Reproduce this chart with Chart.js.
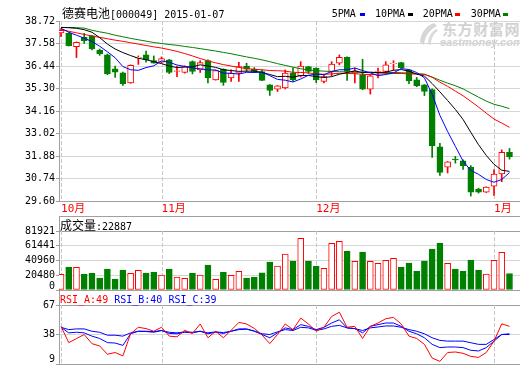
<!DOCTYPE html>
<html>
<head>
<meta charset="utf-8">
<script src="https://cdn.jsdelivr.net/npm/chart.js@4.4.1/dist/chart.umd.min.js"></script>
<style>
html,body{margin:0;padding:0;background:#fff;width:520px;height:365px;overflow:hidden;}
#wrap{position:relative;width:520px;height:365px;}
canvas{position:absolute;left:0;}
.t{position:absolute;white-space:nowrap;font-family:'DejaVu Sans Mono',monospace;font-size:10px;line-height:12px;color:#000;}
.cjk{font-family:'Noto Sans CJK SC',sans-serif;font-size:12px;}
.wm{position:absolute;white-space:nowrap;color:#d2d2d2;font-weight:bold;}
.mk{position:absolute;width:5px;height:3px;}
</style>
</head>
<body>
<div id="wrap">
  <svg class="wm" style="left:416px;top:22px" width="24" height="24" viewBox="0 0 24 24">
    <path d="M18 1 C10 4 5 10 4 20 L8 23 C9 14 13 8 21 4 Z" fill="#d6d6d6"/>
    <path d="M20 7 C15 10 12 15 12 22 L15 23 C15 17 17 12 22 9 Z" fill="#dcdcdc"/>
  </svg>
  <div class="wm" style="left:442px;top:20px;font-family:'Noto Sans CJK SC';font-size:15px;line-height:18px;letter-spacing:0.6px">东方财富网</div>
  <div class="wm" style="left:440px;top:36px;font-family:'Liberation Sans';font-size:11px;line-height:12px;font-style:italic">eastmoney.com</div>

  <canvas id="cMain" width="520" height="216" style="top:0;width:520px;height:216px"></canvas>
  <canvas id="cVol" width="520" height="75" style="top:216px;width:520px;height:75px"></canvas>
  <canvas id="cRsi" width="520" height="75" style="top:290px;width:520px;height:75px"></canvas>

  <div class="t" id="title" style="left:62px;top:7px"></div>
  <div id="legend"></div>
  <div class="t" id="volHead" style="left:60px;top:219px"></div>
  <div class="t" id="rsiHead" style="left:60px;top:294px"></div>
</div>
<script>
// ---------------- DATA ----------------
const stockName = '德赛电池';
const stockCode = '[000049] 2015-01-07';
const opens  = [38.12,38.09,37.42,37.89,37.97,37.25,37.00,36.30,36.10,35.58,36.85,37.00,36.72,36.64,36.75,36.17,36.11,36.66,36.24,36.71,35.74,36.28,35.83,36.08,36.44,36.29,36.16,35.49,35.27,35.33,36.08,35.94,36.41,36.33,35.66,36.16,36.58,36.88,36.08,35.99,35.27,36.10,36.16,36.56,36.61,36.24,35.74,35.49,35.24,32.34,31.31,31.72,31.63,31.31,30.20,30.05,30.35,30.97,32.06];
const highs  = [38.34,38.12,37.66,38.09,38.00,37.30,37.05,36.43,36.13,36.50,36.95,37.20,36.95,36.90,36.78,36.43,36.45,36.70,36.71,36.75,36.22,36.30,36.24,36.63,36.58,36.36,36.25,35.50,35.45,36.24,36.33,36.66,36.41,36.35,36.00,36.66,37.00,36.91,36.33,36.78,36.00,36.33,36.66,36.71,36.63,36.25,35.86,35.50,35.28,32.52,31.60,31.86,31.69,31.39,30.25,30.32,31.19,32.19,32.26];
const lows   = [37.92,37.45,36.87,37.58,37.25,36.98,36.00,35.86,35.45,35.56,36.52,36.63,36.58,36.60,36.05,35.90,36.08,36.04,36.11,35.58,35.72,35.46,35.66,35.66,36.16,36.10,35.70,34.95,35.15,35.28,35.66,35.88,36.06,35.60,35.58,35.94,36.50,35.71,35.58,35.24,35.02,35.83,36.04,36.24,36.33,35.54,35.39,34.94,31.81,30.90,31.02,31.52,31.20,29.85,30.00,30.03,29.88,30.58,31.72];
const closes = [38.25,37.47,37.64,37.72,37.30,37.05,36.05,36.13,35.54,36.48,36.88,36.75,36.58,36.81,36.11,36.20,36.41,36.16,36.61,35.83,36.21,35.61,36.08,36.41,36.28,36.16,35.71,35.20,35.44,36.08,35.74,36.44,36.16,35.74,35.91,36.54,36.88,36.16,36.20,35.27,35.94,36.16,36.50,36.58,36.36,35.69,35.44,35.15,32.39,31.05,31.59,31.68,31.39,30.05,30.05,30.30,30.97,32.06,31.84];
const ma5  = [38.35,38.15,38.00,37.85,37.68,37.44,37.16,36.86,36.41,36.25,36.22,36.36,36.45,36.70,36.63,36.49,36.42,36.34,36.30,36.24,36.24,36.08,36.07,36.03,36.12,36.11,36.13,35.95,35.76,35.72,35.63,35.78,35.97,36.03,36.00,36.16,36.25,36.25,36.34,36.21,36.09,35.95,36.01,36.09,36.31,36.26,36.11,35.84,35.01,33.94,33.12,32.37,31.62,31.15,30.95,30.69,30.55,30.69,31.04];
const ma10 = [38.40,38.38,38.35,38.28,38.15,37.88,37.55,37.30,37.12,36.97,36.83,36.76,36.66,36.56,36.44,36.36,36.39,36.40,36.50,36.44,36.37,36.25,36.21,36.17,36.18,36.18,36.11,36.01,35.90,35.92,35.87,35.96,35.96,35.90,35.86,35.90,36.02,36.11,36.19,36.11,36.13,36.10,36.13,36.22,36.26,36.18,36.03,35.93,35.55,35.13,34.69,34.24,33.73,33.08,32.45,31.91,31.46,31.16,31.10];
const ma20 = [38.29,38.20,38.12,38.04,37.96,37.89,37.82,37.75,37.69,37.62,37.55,37.48,37.41,37.35,37.27,37.18,37.07,36.95,36.82,36.70,36.60,36.51,36.44,36.37,36.31,36.27,36.25,36.21,36.20,36.18,36.12,36.11,36.09,36.04,36.02,36.04,36.07,36.06,36.05,36.02,36.00,36.03,36.05,36.06,36.06,36.04,36.03,36.02,35.87,35.62,35.41,35.17,34.93,34.65,34.36,34.05,33.75,33.55,33.33];
const ma30 = [38.39,38.39,38.38,38.36,38.25,38.17,38.10,38.00,37.92,37.84,37.77,37.70,37.63,37.58,37.53,37.49,37.43,37.38,37.32,37.26,37.20,37.13,37.06,36.98,36.90,36.83,36.75,36.66,36.56,36.47,36.38,36.30,36.24,36.20,36.18,36.16,36.15,36.14,36.13,36.12,36.11,36.11,36.11,36.11,36.10,36.08,36.05,36.02,35.88,35.72,35.57,35.44,35.28,35.07,34.86,34.66,34.50,34.40,34.28];
const volumes = [21800,31900,31500,22200,23600,16700,29100,15300,27800,23200,27300,23600,25000,20800,29100,18000,16200,23600,20800,34700,14800,25000,20400,26000,16700,18000,24000,38900,33300,50000,40300,71800,40300,33300,30100,64800,67600,54100,39800,52700,39800,37000,41200,44000,31900,37500,26400,40300,56900,65200,37000,29100,26400,41600,27800,22200,41200,52300,22887];
const rsiA = [46.0,30.0,34.0,38.0,29.0,26.7,18.6,20.3,17.0,38.7,45.1,43.8,41.2,45.1,36.4,35.7,42.1,39.0,48.3,34.8,41.2,34.8,42.1,49.9,48.3,44.0,37.5,29.0,38.0,48.3,42.8,54.1,48.3,41.2,45.1,55.7,59.9,45.1,46.0,34.1,46.0,49.3,53.5,54.8,48.3,36.4,34.1,28.3,14.8,11.6,20.3,20.8,19.5,16.5,15.5,20.3,31.5,48.5,46.0];
const rsiB = [45.1,39.6,40.2,39.6,36.4,34.1,30.0,29.6,27.3,38.7,41.2,40.9,40.2,41.9,39.0,38.7,40.2,39.6,41.2,38.7,40.2,39.0,41.2,43.5,43.5,41.2,38.0,34.8,39.6,44.5,42.8,47.7,46.0,42.8,45.1,49.3,52.5,44.5,43.8,39.6,46.0,47.7,49.3,49.3,46.0,41.2,38.7,34.8,28.3,25.1,25.7,25.7,25.1,22.5,21.8,25.1,31.5,38.0,38.0];
const rsiC = [45.1,42.8,43.5,43.5,41.2,40.2,37.3,37.3,36.4,39.6,41.2,41.2,40.9,41.9,40.2,39.6,40.6,40.2,41.2,39.6,40.6,39.9,41.2,42.8,43.2,41.5,38.7,38.0,40.6,42.8,41.9,45.1,44.5,42.1,43.5,46.0,47.0,44.5,43.8,41.9,44.5,45.4,46.4,46.4,45.1,42.8,41.2,38.7,34.8,32.2,31.5,31.5,31.5,29.9,28.3,28.3,33.1,38.0,38.7];
const rsiLatest = [49, 40, 39];
const rsiNames = ['RSI_A', 'RSI_B', 'RSI_C'];
const maNames = ['5PMA', '10PMA', '20PMA', '30PMA'];
const priceTicks = [29.60, 30.74, 31.88, 33.02, 34.16, 35.30, 36.44, 37.58, 38.72];
const volTicks = [0, 20480, 40960, 61441, 81921];
const rsiTicks = [9, 38, 67];
const monthIdx = [0, 13, 33, 56];
const monthLabels = ['10月', '11月', '12月', '1月'];
const volTitle = '成交量';

// ---------------- STYLE ----------------
const RED = '#ff0000', GREEN = '#008000', BLUE = '#0000ff', BLACK = '#000000';
const GRID = '#d6d6d6', AXIS = '#a0a0a0', DASH = '#c8c8c8';
const maColors = [BLUE, BLACK, RED, GREEN];
const rsiColors = [RED, BLUE, BLUE];
const legendPos = [[331.7, 360], [375, 408], [422.7, 455], [470.7, 503]];
const X_MIN = -0.26, X_MAX = 59.36;
const MONO = "'DejaVu Sans Mono'";

const isUp = closes.map((c, i) => c >= opens[i]);
const pt = arr => arr.map((v, i) => ({ x: i, y: v }));

// ---------------- HTML TEXT ----------------
document.getElementById('title').innerHTML = '<span class="cjk">' + stockName + '</span>' + stockCode;
const lg = document.getElementById('legend');
maNames.forEach((n, k) => {
  const s = document.createElement('div');
  s.className = 't'; s.style.left = legendPos[k][0] + 'px'; s.style.top = '8px'; s.textContent = n;
  lg.appendChild(s);
  const m = document.createElement('div');
  m.className = 'mk'; m.style.left = legendPos[k][1] + 'px'; m.style.top = '13px'; m.style.background = maColors[k];
  lg.appendChild(m);
});
document.getElementById('volHead').innerHTML = '<span class="cjk">' + volTitle + '</span>:' + volumes[volumes.length - 1];
document.getElementById('rsiHead').innerHTML = rsiNames.map((n, k) =>
  '<span style="color:' + rsiColors[k] + '">' + n + ':' + rsiLatest[k] + '</span>').join(' ');

// ---------------- PLUGINS ----------------
const monthLines = {
  id: 'monthLines',
  beforeDatasetsDraw(chart) {
    const { ctx, chartArea: a, scales: { x } } = chart;
    ctx.save();
    ctx.strokeStyle = DASH; ctx.lineWidth = 1; ctx.setLineDash([4, 2]);
    monthIdx.forEach(i => {
      const px = Math.round(x.getPixelForValue(i)) + 0.5;
      ctx.beginPath(); ctx.moveTo(px, a.top); ctx.lineTo(px, a.bottom); ctx.stroke();
    });
    ctx.restore();
  }
};
const panelFrame = {
  id: 'panelFrame',
  beforeDatasetsDraw(chart) {
    const { ctx, chartArea: a, width } = chart;
    const lx = Math.round(a.left) + 0.5;
    ctx.save();
    ctx.strokeStyle = AXIS; ctx.lineWidth = 1;
    ctx.beginPath();
    ctx.moveTo(lx, 0.5); ctx.lineTo(width, 0.5);
    ctx.moveTo(lx, 0); ctx.lineTo(lx, a.top);
    ctx.stroke();
    ctx.restore();
  }
};
function sideLabels(values, fmt, inset) {
  return {
    id: 'sideLabels',
    afterDraw(chart) {
      const { ctx, chartArea: a, scales: { y } } = chart;
      ctx.save();
      ctx.font = '10px ' + MONO; ctx.fillStyle = '#000';
      ctx.textAlign = 'right'; ctx.textBaseline = 'middle';
      values.forEach(v => {
        let py = y.getPixelForValue(v);
        py = Math.min(py, a.bottom - inset);
        ctx.fillText(fmt(v), a.left - 4, py);
      });
      ctx.restore();
    }
  };
}

const baseOpts = {
  responsive: false, animation: false, events: [], devicePixelRatio: 1,
  plugins: { legend: { display: false }, tooltip: { enabled: false } }
};
const topGridColor = max => c => (c.tick && c.tick.value === max) ? AXIS : GRID;
const xPlain = {
  type: 'linear', min: X_MIN, max: X_MAX, offset: false, bounds: 'data',
  afterFit: s => { s.height = 1; },
  ticks: { display: false }, grid: { display: false, drawTicks: false, offset: false },
  border: { color: AXIS }
};

// ---------------- MAIN (candles + MA) ----------------
new Chart(document.getElementById('cMain'), {
  type: 'bar',
  data: {
    datasets: [
      ...[ma5, ma10, ma20, ma30].map((arr, k) => ({
        type: 'line', label: maNames[k], data: pt(arr), borderColor: maColors[k],
        borderWidth: 1, pointRadius: 0, tension: 0, order: 0
      })),
      {
        type: 'bar', label: 'body', data: opens.map((o, i) => ({ x: i, y: [o, closes[i]] })),
        backgroundColor: isUp.map(u => u ? '#ffffff' : GREEN),
        borderColor: isUp.map(u => u ? RED : GREEN),
        borderWidth: 1, borderSkipped: false, barThickness: 6, grouped: false, order: 1
      },
      {
        type: 'bar', label: 'wick', data: lows.map((l, i) => ({ x: i, y: [l, highs[i]] })),
        backgroundColor: isUp.map(u => u ? RED : GREEN),
        borderWidth: 0, barThickness: 1, grouped: false, order: 2
      }
    ]
  },
  options: {
    ...baseOpts,
    layout: { padding: { top: 21, right: 0, left: 0, bottom: 0 } },
    scales: {
      x: {
        type: 'linear', min: X_MIN, max: X_MAX, offset: false, bounds: 'data',
        afterBuildTicks: s => { s.ticks = monthIdx.map(v => ({ value: v })); },
        afterFit: s => { s.height = 15; },
        ticks: {
          callback: (v, i) => monthLabels[i], color: RED, align: 'start', padding: 2,
          maxRotation: 0, autoSkip: false,
          font: { family: MONO + ", 'Noto Sans CJK SC'", size: 11 }
        },
        grid: { display: false, drawTicks: false, offset: false },
        border: { color: AXIS }
      },
      y: {
        min: 29.6, max: 38.72,
        afterBuildTicks: s => { s.ticks = priceTicks.map(v => ({ value: v })); },
        afterFit: s => { s.width = 59; },
        ticks: { callback: v => Number(v).toFixed(2), color: '#000', padding: 1, font: { family: MONO, size: 10 } },
        grid: { color: GRID, tickLength: 3, tickColor: AXIS },
        border: { color: AXIS }
      }
    }
  },
  plugins: [monthLines]
});

// ---------------- VOLUME ----------------
new Chart(document.getElementById('cVol'), {
  type: 'bar',
  data: {
    datasets: [{
      label: volTitle, data: pt(volumes),
      backgroundColor: isUp.map(u => u ? '#ffffff' : GREEN),
      borderColor: isUp.map(u => u ? RED : GREEN),
      borderWidth: 1, borderSkipped: false, barThickness: 6
    }]
  },
  options: {
    ...baseOpts,
    layout: { padding: { top: 15, right: 0, left: 0, bottom: 0 } },
    scales: {
      x: xPlain,
      y: {
        min: 0, max: volTicks[volTicks.length - 1],
        afterBuildTicks: s => { s.ticks = volTicks.map(v => ({ value: v })); },
        afterFit: s => { s.width = 59; },
        ticks: { display: false },
        grid: { color: topGridColor(volTicks[volTicks.length - 1]), tickLength: 3, tickColor: AXIS },
        border: { color: AXIS }
      }
    }
  },
  plugins: [monthLines, panelFrame, sideLabels(volTicks, v => String(v), 4)]
});

// ---------------- RSI ----------------
new Chart(document.getElementById('cRsi'), {
  type: 'line',
  data: {
    datasets: [rsiA, rsiB, rsiC].map((arr, k) => ({
      label: rsiNames[k], data: pt(arr), borderColor: rsiColors[k],
      borderWidth: 1, pointRadius: 0, tension: 0
    }))
  },
  options: {
    ...baseOpts,
    layout: { padding: { top: 15, right: 0, left: 0, bottom: 0 } },
    scales: {
      x: xPlain,
      y: {
        min: rsiTicks[0], max: rsiTicks[rsiTicks.length - 1],
        afterBuildTicks: s => { s.ticks = rsiTicks.map(v => ({ value: v })); },
        afterFit: s => { s.width = 59; },
        ticks: { display: false },
        grid: { color: topGridColor(rsiTicks[rsiTicks.length - 1]), tickLength: 3, tickColor: AXIS },
        border: { color: AXIS }
      }
    }
  },
  plugins: [monthLines, panelFrame, sideLabels(rsiTicks, v => String(v), 5)]
});
</script>
</body>
</html>
